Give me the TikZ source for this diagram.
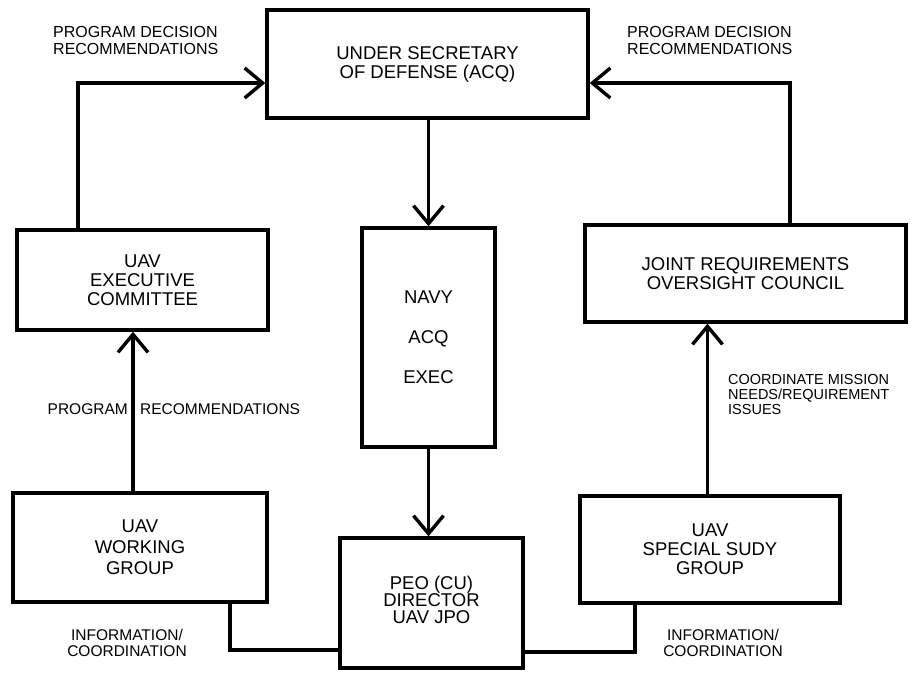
\documentclass[tikz,border=0pt]{standalone}
\usepackage{fontspec}
\setmainfont{Liberation Sans}
\usetikzlibrary{arrows.meta}
\begin{document}
\begin{tikzpicture}[x=1pt,y=-1pt,
  box/.style={draw,line width=3.4pt,align=center,inner sep=0pt,font=\fontsize{18.5}{19}\selectfont},
  lbl/.style={inner sep=0pt,font=\fontsize{15.5}{16}\selectfont},
  conn/.style={line width=3.4pt},
  arr/.style={conn,-{Straight Barb[length=18pt,width=30pt,line width=3.4pt]}}]
\useasboundingbox (0,0) rectangle (912,672);
% boxes
\node[box,minimum width=321pt,minimum height=108pt] (usd) at (427.5,64) {UNDER SECRETARY\\OF DEFENSE (ACQ)};
\node[box,minimum width=251pt,minimum height=100pt] (exec) at (142.5,280) {UAV\\EXECUTIVE\\COMMITTEE};
\node[box,minimum width=133pt,minimum height=219pt,font=\fontsize{18.5}{40}\selectfont] (navy) at (428.5,337.5) {NAVY\\ACQ\\EXEC};
\node[box,minimum width=321pt,minimum height=97pt] (jroc) at (745.5,273.5) {JOINT REQUIREMENTS\\OVERSIGHT COUNCIL};
\node[box,minimum width=254pt,minimum height=109pt,font=\fontsize{18.5}{21}\selectfont] (wg) at (140,547.5) {UAV\\WORKING\\GROUP};
\node[box,minimum width=183pt,minimum height=130pt] (peo) at (431.5,603) {\raisebox{7pt}{\begin{tabular}{@{}c@{}}PEO (CU)\\[-2pt]DIRECTOR\\[-2pt]UAV JPO\end{tabular}}};
\node[box,minimum width=260pt,minimum height=107pt] (ssg) at (710,549.5) {UAV\\SPECIAL SUDY\\GROUP};
% connectors
\draw[arr] ([xshift=-64.5pt]exec.north) |- ([yshift=-19pt]usd.west);
\draw[arr] ([xshift=44.5pt]jroc.north) |- ([yshift=-19pt]usd.east);
\draw[arr] (usd.south -| navy.north) -- (navy.north);
\draw[arr] (navy.south) -- (navy.south |- peo.north);
\draw[arr] ([xshift=-7pt]wg.north) -- ([xshift=-7pt]wg.north |- exec.south);
\draw[arr] ([xshift=-2.5pt]ssg.north) -- ([xshift=-2.5pt]ssg.north |- jroc.south);
\draw[conn] ([xshift=90pt]wg.south) |- ([yshift=-47pt]peo.west);
\draw[conn] ([xshift=-75pt]ssg.south) |- ([yshift=-49pt]peo.east);
% labels
\node[lbl,anchor=north west,align=left,font=\fontsize{16}{17}\selectfont] (l1) at (53,26) {PROGRAM DECISION\\RECOMMENDATIONS};
\node[lbl,anchor=north west,align=left,font=\fontsize{16}{17}\selectfont] (l2) at (627,26) {PROGRAM DECISION\\RECOMMENDATIONS};
\node[lbl,anchor=east] (l3) at (128,409) {PROGRAM};
\node[lbl,anchor=west] (l4) at (140,409) {RECOMMENDATIONS};
\node[lbl,anchor=north west,align=left,font=\fontsize{14.5}{15}\selectfont] (l5) at (728,374) {COORDINATE MISSION\\NEEDS/REQUIREMENT\\ISSUES};
\node[lbl,align=center] (l6) at (127,643) {INFORMATION/\\COORDINATION};
\node[lbl,align=center] (l7) at (723,643) {INFORMATION/\\COORDINATION};
\end{tikzpicture}
\end{document}
